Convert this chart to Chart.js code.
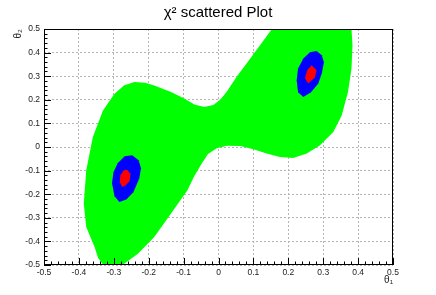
<!DOCTYPE html>
<html>
<head>
<meta charset="utf-8">
<script src="https://cdn.jsdelivr.net/npm/chart.js@4/dist/chart.umd.min.js"></script>
<style>
  html, body { margin: 0; padding: 0; background: #fff; }
  #wrap { width: 436px; height: 295px; }
</style>
</head>
<body>
<div id="wrap"><canvas id="chi2Chart" width="436" height="295"></canvas></div>
<script>
// Tick labels (theta1 on x, theta2 on y), listed from min to max
const xTickLabels = ['-0.5', '-0.4', '-0.3', '-0.2', '-0.1', '0', '0.1', '0.2', '0.3', '0.4', '0.5'];
const yTickLabels = ['-0.5', '-0.4', '-0.3', '-0.2', '-0.1', '0', '0.1', '0.2', '0.3', '0.4', '0.5'];

// Outline of the green (widest) scatter region
const greenTheta1 = [-0.275, -0.33, -0.345, -0.355, -0.379, -0.386, -0.379, -0.36, -0.331, -0.298, -0.27,
  -0.241, -0.21, -0.184, -0.136, -0.098, -0.069, -0.041, -0.015, 0.005, 0.024, 0.053, 0.081, 0.119, 0.153,
  0.381, 0.384, 0.381, 0.371, 0.353, 0.329, 0.291, 0.253, 0.214, 0.176, 0.138, 0.1, 0.062, 0.024, -0.005,
  -0.03, -0.048, -0.07, -0.089, -0.136, -0.184, -0.231];
const greenTheta2 = [-0.5, -0.5, -0.47, -0.424, -0.339, -0.24, -0.099, 0.042, 0.155, 0.226, 0.262,
  0.275, 0.272, 0.261, 0.233, 0.205, 0.18, 0.169, 0.178, 0.2, 0.235, 0.3, 0.355, 0.431, 0.5,
  0.5, 0.431, 0.332, 0.233, 0.134, 0.064, 0.007, -0.028, -0.047, -0.042, -0.028, -0.01, 0.004, 0.005, -0.005,
  -0.03, -0.07, -0.125, -0.183, -0.282, -0.381, -0.452];

// Blue regions (left and right minimum)
const blueLeftTheta1 = [-0.247, -0.229, -0.222, -0.227, -0.244, -0.264, -0.284, -0.298, -0.305, -0.301, -0.289, -0.269];
const blueLeftTheta2 = [-0.035, -0.056, -0.09, -0.133, -0.192, -0.222, -0.233, -0.209, -0.154, -0.107, -0.069, -0.039];
const blueRightTheta1 = [0.281, 0.296, 0.302, 0.296, 0.286, 0.265, 0.243, 0.228, 0.224, 0.228, 0.243, 0.262];
const blueRightTheta2 = [0.407, 0.389, 0.359, 0.312, 0.269, 0.232, 0.212, 0.232, 0.283, 0.333, 0.375, 0.401];

// Red cores
const redLeftTheta1 = [-0.262, -0.252, -0.255, -0.266, -0.276, -0.283, -0.281, -0.272];
const redLeftTheta2 = [-0.096, -0.113, -0.145, -0.162, -0.169, -0.148, -0.12, -0.099];
const redRightTheta1 = [0.267, 0.281, 0.276, 0.257, 0.248, 0.254];
const redRightTheta2 = [0.346, 0.325, 0.295, 0.269, 0.291, 0.325];

function toPoints(xs, ys) {
  return xs.map((x, i) => ({ x: x, y: ys[i] }));
}

// Fill each dataset as a closed polygon, using the pixel positions chart.js computed
const polyFill = {
  id: 'polyFill',
  beforeDatasetsDraw(chart) {
    const ctx = chart.ctx;
    const area = chart.chartArea;
    ctx.save();
    ctx.beginPath();
    ctx.rect(area.left, area.top, area.right - area.left, area.bottom - area.top);
    ctx.clip();
    chart.data.datasets.forEach((ds, i) => {
      const pts = chart.getDatasetMeta(i).data;
      ctx.beginPath();
      pts.forEach((p, j) => {
        if (j === 0) ctx.moveTo(p.x, p.y);
        else ctx.lineTo(p.x, p.y);
      });
      ctx.closePath();
      ctx.fillStyle = ds.backgroundColor;
      ctx.fill();
    });
    ctx.restore();
  }
};

// ROOT-like frame with inner tick marks on the left and bottom axes
const rootFrame = {
  id: 'rootFrame',
  afterDraw(chart) {
    const ctx = chart.ctx;
    const a = chart.chartArea;
    const xs = chart.scales.x;
    const ys = chart.scales.y;
    ctx.save();
    ctx.strokeStyle = '#000';
    ctx.lineWidth = 1;
    ctx.strokeRect(Math.round(a.left) + 0.5, Math.round(a.top) + 0.5,
      Math.round(a.right - a.left) - 1, Math.round(a.bottom - a.top) - 1);
    ctx.beginPath();
    for (let k = -25; k <= 25; k++) {
      const v = k / 50;
      const len = (k % 5 === 0) ? 7 : 3.5;
      const px = Math.round(xs.getPixelForValue(v)) + 0.5;
      ctx.moveTo(px, a.bottom);
      ctx.lineTo(px, a.bottom - len);
      const py = Math.round(ys.getPixelForValue(v)) + 0.5;
      ctx.moveTo(a.left, py);
      ctx.lineTo(a.left + len, py);
    }
    ctx.stroke();
    ctx.restore();
  }
};

const tickFont = { family: 'Liberation Sans, Arial, sans-serif', size: 8.5 };

const ctx = document.getElementById('chi2Chart').getContext('2d');
new Chart(ctx, {
  type: 'scatter',
  data: {
    datasets: [
      { label: 'chi2 < 11.8', data: toPoints(greenTheta1, greenTheta2), backgroundColor: '#00ff00' },
      { label: 'blue left', data: toPoints(blueLeftTheta1, blueLeftTheta2), backgroundColor: '#0000ff' },
      { label: 'blue right', data: toPoints(blueRightTheta1, blueRightTheta2), backgroundColor: '#0000ff' },
      { label: 'red left', data: toPoints(redLeftTheta1, redLeftTheta2), backgroundColor: '#ff0000' },
      { label: 'red right', data: toPoints(redRightTheta1, redRightTheta2), backgroundColor: '#ff0000' }
    ].map(d => Object.assign(d, { pointRadius: 0, showLine: false }))
  },
  options: {
    responsive: false,
    animation: false,
    layout: { padding: 0 },
    plugins: {
      legend: { display: false },
      tooltip: { enabled: false },
      title: {
        display: true,
        text: 'χ² scattered Plot',
        color: '#000',
        font: { family: 'Liberation Sans, Arial, sans-serif', size: 15, weight: 'normal', lineHeight: 1.2 },
        padding: { top: 4, bottom: 7 }
      }
    },
    scales: {
      x: {
        type: 'linear',
        min: -0.5,
        max: 0.5,
        afterFit: s => { s.height = 30; },
        grid: { color: '#b4b4b4', drawTicks: false },
        border: { display: false, dash: [2, 2] },
        ticks: {
          stepSize: 0.1,
          autoSkip: false,
          maxRotation: 0,
          padding: 3,
          color: '#222',
          font: tickFont,
          callback: v => xTickLabels[Math.round(v * 10) + 5]
        },
        title: {
          display: true,
          text: 'θ₁',
          align: 'end',
          color: '#222',
          font: { family: 'Liberation Sans, Arial, sans-serif', size: 10 },
          padding: { top: 0, bottom: 9 }
        }
      },
      y: {
        type: 'linear',
        min: -0.5,
        max: 0.5,
        afterFit: s => { s.width = 44; },
        grid: { color: '#b4b4b4', drawTicks: false },
        border: { display: false, dash: [2, 2] },
        ticks: {
          stepSize: 0.1,
          autoSkip: false,
          padding: 4,
          color: '#222',
          font: tickFont,
          callback: v => yTickLabels[Math.round(v * 10) + 5]
        },
        title: {
          display: true,
          text: 'θ₂',
          align: 'end',
          color: '#222',
          font: { family: 'Liberation Sans, Arial, sans-serif', size: 10 },
          padding: { top: 12, bottom: 0 }
        }
      },
      // empty right-hand margin so the title stays centred on the canvas
      yRight: {
        type: 'linear',
        position: 'right',
        display: true,
        afterFit: s => { s.width = 43; },
        grid: { display: false },
        border: { display: false },
        ticks: { display: false }
      }
    }
  },
  plugins: [polyFill, rootFrame]
});
</script>
</body>
</html>
